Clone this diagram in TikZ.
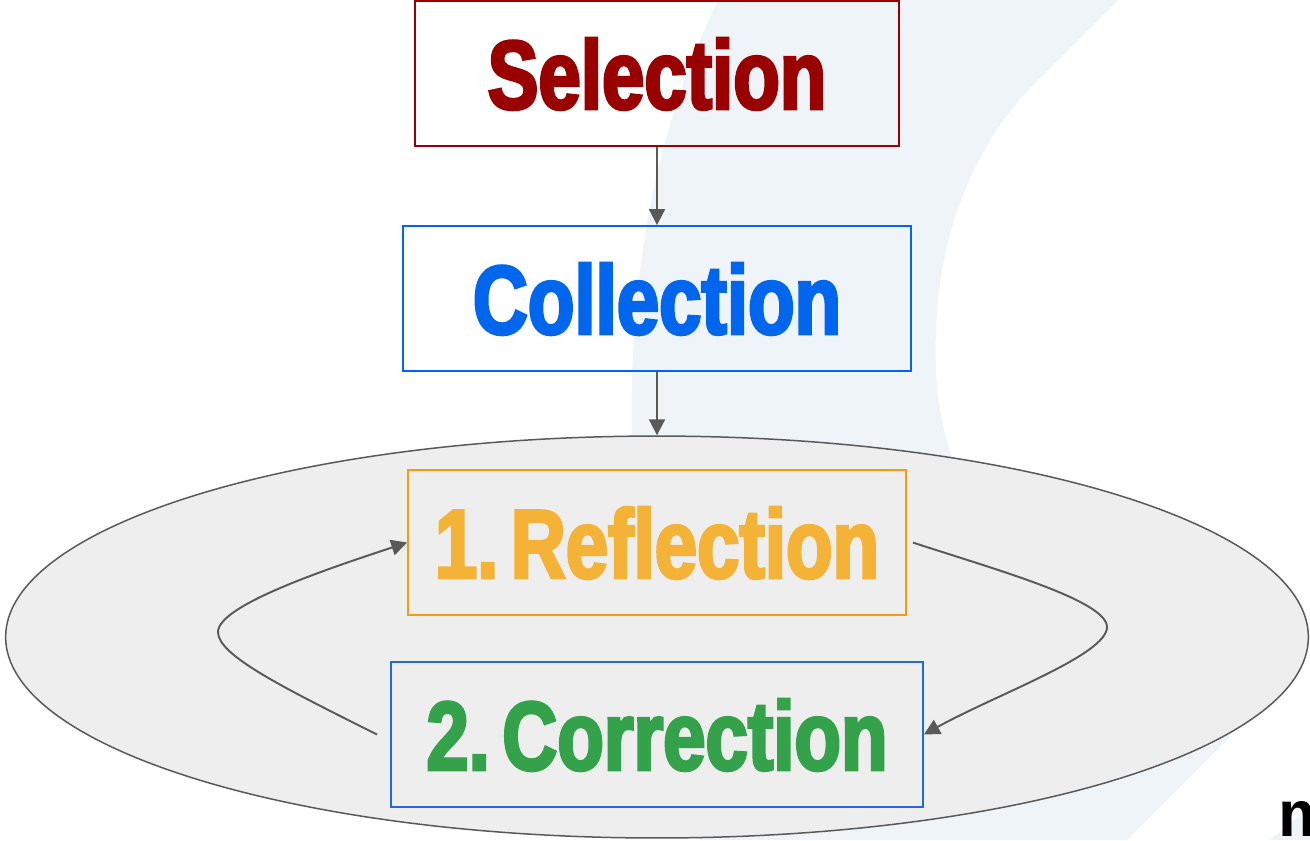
\documentclass[tikz,border=0pt]{standalone}
\usepackage{fontspec}
\usepackage{xcolor}
\usetikzlibrary{shapes.geometric,arrows.meta}
\newfontfamily\stagefont{Liberation Sans}[FakeStretch=0.78,FakeBold=3,WordSpace=0.25]
\newfontfamily\markfont{Liberation Sans}
\definecolor{selred}{HTML}{990000}
\definecolor{colblue}{HTML}{0066EE}
\definecolor{refgold}{HTML}{F4B337}
\definecolor{refedge}{HTML}{FF9900}
\definecolor{corgreen}{HTML}{34A14B}
\definecolor{coredge}{HTML}{1A6AEA}
\definecolor{ringbg}{HTML}{EEEEEE}
\definecolor{ringedge}{HTML}{595959}
\definecolor{wmbg}{HTML}{EFF4F9}
\tikzset{
  stage/.style={draw,line width=1.1pt,minimum height=2.9cm,inner sep=0pt,
    text depth=0pt,font=\stagefont\bfseries\fontsize{55.6}{60}\selectfont},
  ringnode/.style={ellipse,draw=ringedge,fill=ringbg,line width=0.85pt,
    minimum width=26.06cm,minimum height=8.04cm,inner sep=0pt},
  flow/.style={draw=ringedge,line width=1.1pt,
    -{Triangle[length=9pt,width=9pt]}},
}

\begin{document}
\begin{tikzpicture}[x=0.02cm,y=-0.02cm]
\useasboundingbox (0,0) rectangle (1310,840);
\clip (0,0) rectangle (1310,840);

% --- light backdrop shapes -------------------------------------------
\fill[wmbg] (718,0) -- (1118,0) -- (1029,89)
  .. controls (960,165) and (932,260) .. (936,370)
  .. controls (940,480) and (1000,600) .. (1230,737)
  -- (1127,840) -- (700,840)
  .. controls (650,700) and (628,500) .. (632,380)
  .. controls (636,220) and (670,100) .. (718,0) -- cycle;
\fill[wmbg] (1270,840) -- (1310,807) -- (1310,840) -- cycle;

% --- the loop ring ---------------------------------------------------
\node[ringnode] (ring) at (657,637) {};

% --- stages ----------------------------------------------------------
\node[stage,draw=selred,text=selred,minimum width=9.68cm] (selection) at (657,73.5) {Selection};
\node[stage,draw=colblue,text=colblue,minimum width=10.16cm] (collection) at (657,298.5) {Collection};
\node[stage,draw=refedge,text=refgold,minimum width=9.96cm] (reflection) at (657,542.5) {1. Reflection};
\node[stage,draw=coredge,text=corgreen,minimum width=10.64cm] (correction) at (657,734.5) {2. Correction};

% --- connectors ------------------------------------------------------
\draw[flow] (selection.south) -- (collection.north);
\draw[flow] (collection.south) -- (ring.north);
\draw[flow] ([xshift=0.12cm]reflection.east)
  .. controls (990,568) and (1107,600) .. (1107,627)
  .. controls (1107,655) and (995,695) .. (correction.east);
\draw[flow] ([xshift=-0.26cm]correction.west)
  .. controls (280,686) and (218,655) .. (218,632)
  .. controls (218,605) and (330,568) .. (reflection.west);

% --- corner mark -----------------------------------------------------
\node[anchor=base west,inner sep=0pt,font=\markfont\bfseries\fontsize{37}{40}\selectfont] (mark) at (1278,836) {m};

\end{tikzpicture}
\end{document}
